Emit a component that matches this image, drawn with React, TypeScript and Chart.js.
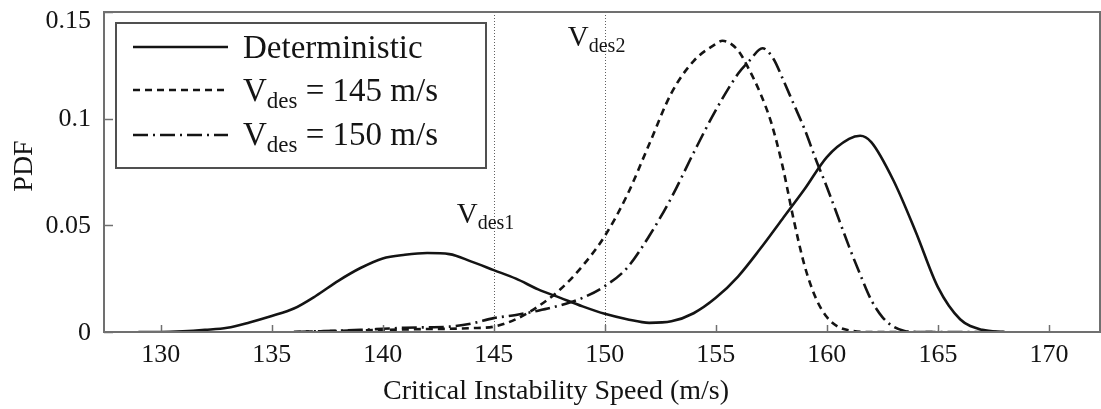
import React, { useEffect, useRef } from "react";
import { Chart, registerables } from "chart.js";
Chart.register(...registerables);

const xTicks = [130, 135, 140, 145, 150, 155, 160, 165, 170];
const yTicks = [0, 0.05, 0.1, 0.15];
const yTickLabels = ["0", "0.05", "0.1", "0.15"];

const detSpeed = [129, 130, 131, 132, 133, 134, 135, 136, 137, 138, 139, 140, 141, 142, 143, 144, 145, 146, 147, 148, 149, 150, 151, 152, 153, 154, 155, 156, 157, 158, 159, 160, 161, 161.5, 162, 163, 164, 165, 166, 167, 168];
const detPdf = [0, 0, 0.0003, 0.001, 0.002, 0.0045, 0.0075, 0.011, 0.017, 0.024, 0.030, 0.0345, 0.0362, 0.037, 0.0365, 0.033, 0.029, 0.025, 0.020, 0.016, 0.012, 0.0085, 0.006, 0.0043, 0.005, 0.0088, 0.016, 0.026, 0.039, 0.053, 0.067, 0.082, 0.0905, 0.092, 0.089, 0.071, 0.047, 0.021, 0.006, 0.001, 0];

const v145Speed = [136, 137, 138, 139, 140, 141, 142, 143, 144, 145, 146, 147, 148, 149, 150, 151, 152, 153, 154, 155, 155.3, 156, 156.5, 157, 157.5, 158, 158.5, 159, 159.5, 160, 160.5, 161, 162, 165];
const v145Pdf = [0, 0.0003, 0.0005, 0.0008, 0.001, 0.0012, 0.0014, 0.0015, 0.0018, 0.0025, 0.006, 0.012, 0.020, 0.031, 0.045, 0.064, 0.088, 0.112, 0.127, 0.135, 0.1365, 0.132, 0.123, 0.112, 0.098, 0.078, 0.053, 0.031, 0.016, 0.007, 0.0025, 0.0008, 0, 0];

const v150Speed = [136, 137, 138, 139, 140, 141, 142, 143, 144, 145, 146, 147, 148, 149, 150, 151, 152, 153, 154, 155, 156, 156.5, 157.1, 157.6, 158, 158.5, 159, 159.5, 160, 160.5, 161, 161.5, 162, 162.5, 163, 163.5, 164, 168];
const v150Pdf = [0, 0.0003, 0.0006, 0.001, 0.0015, 0.002, 0.0022, 0.0025, 0.004, 0.0065, 0.008, 0.010, 0.0125, 0.016, 0.0215, 0.030, 0.045, 0.063, 0.084, 0.104, 0.121, 0.127, 0.133, 0.128, 0.119, 0.107, 0.095, 0.081, 0.068, 0.054, 0.040, 0.027, 0.015, 0.007, 0.0025, 0.0005, 0, 0];

const designSpeeds = [145, 150];
const designSubs = ["des1", "des2"];
const designLabelLevels = [0.06, 0.143];

const legendLabels = [
  { main: "Deterministic", sub: "", rest: "" },
  { main: "V", sub: "des", rest: " = 145 m/s" },
  { main: "V", sub: "des", rest: " = 150 m/s" },
];
const xTitle = "Critical Instability Speed (m/s)";
const yTitle = "PDF";

const SERIF = "'Liberation Serif', 'Times New Roman', serif";
const INK = "#141414";
const AXIS = "#707070";
const DASHES: number[][] = [[], [7, 5], [15, 5, 2, 5]];

function toPts(xs: number[], ys: number[]) {
  return xs.map((x, i) => ({ x, y: ys[i] }));
}

function drawSubText(ctx: CanvasRenderingContext2D, x: number, y: number, main: string, sub: string, rest: string, size: number, subSize: number) {
  ctx.font = `${size}px ${SERIF}`;
  ctx.fillText(main, x, y);
  let cx = x + ctx.measureText(main).width;
  if (sub) {
    ctx.font = `${subSize}px ${SERIF}`;
    ctx.fillText(sub, cx, y + size * 0.2);
    cx += ctx.measureText(sub).width;
  }
  if (rest) {
    ctx.font = `${size}px ${SERIF}`;
    ctx.fillText(rest, cx, y);
  }
}

const framePlugin = {
  id: "frameDeco",
  beforeDatasetsDraw(chart: any) {
    const { ctx, chartArea: a, scales } = chart;
    const xs = scales.x;
    ctx.save();
    ctx.strokeStyle = "#606060";
    ctx.lineWidth = 1;
    ctx.setLineDash([1, 2]);
    designSpeeds.forEach((v) => {
      const px = Math.round(xs.getPixelForValue(v)) + 0.5;
      ctx.beginPath();
      ctx.moveTo(px, a.top);
      ctx.lineTo(px, a.bottom);
      ctx.stroke();
    });
    ctx.restore();
  },
  afterDraw(chart: any) {
    const { ctx, chartArea: a, scales } = chart;
    const xs = scales.x;
    const ys = scales.y;
    ctx.save();
    // frame
    ctx.strokeStyle = AXIS;
    ctx.lineWidth = 2;
    ctx.setLineDash([]);
    ctx.strokeRect(a.left, a.top, a.right - a.left, a.bottom - a.top);
    // inward ticks
    ctx.lineWidth = 1.5;
    xTicks.forEach((v) => {
      const px = Math.round(xs.getPixelForValue(v)) + 0.5;
      ctx.beginPath();
      ctx.moveTo(px, a.bottom);
      ctx.lineTo(px, a.bottom - 7);
      ctx.stroke();
    });
    yTicks.forEach((v) => {
      const py = Math.round(ys.getPixelForValue(v)) + 0.5;
      ctx.beginPath();
      ctx.moveTo(a.left, py);
      ctx.lineTo(a.left + 9, py);
      ctx.stroke();
    });
    // y tick labels (top label kept inside the canvas)
    ctx.fillStyle = INK;
    ctx.font = `26px ${SERIF}`;
    ctx.textAlign = "right";
    ctx.textBaseline = "middle";
    yTicks.forEach((v, i) => {
      const py = Math.max(ys.getPixelForValue(v) + 1, 21);
      ctx.fillText(yTickLabels[i], a.left - 13, py);
    });
    // design speed labels
    ctx.textBaseline = "alphabetic";
    ctx.textAlign = "left";
    designSpeeds.forEach((v, i) => {
      const px = xs.getPixelForValue(v) - 37;
      const py = ys.getPixelForValue(designLabelLevels[i]) + 19;
      drawSubText(ctx, px, py, "V", designSubs[i], "", 29, 20);
    });
    // legend
    const lx = a.left + 12;
    const ly = a.top + 11;
    ctx.fillStyle = "#ffffff";
    ctx.fillRect(lx, ly, 370, 145);
    ctx.strokeStyle = "#505050";
    ctx.lineWidth = 2;
    ctx.strokeRect(lx, ly, 370, 145);
    const rowY = [24, 67, 112];
    const baseY = [35, 78, 122];
    legendLabels.forEach((l, i) => {
      ctx.strokeStyle = INK;
      ctx.lineWidth = 2.5;
      ctx.setLineDash(DASHES[i]);
      ctx.beginPath();
      ctx.moveTo(lx + 17, ly + rowY[i]);
      ctx.lineTo(lx + 112, ly + rowY[i]);
      ctx.stroke();
      ctx.setLineDash([]);
      ctx.fillStyle = INK;
      drawSubText(ctx, lx + 127, ly + baseY[i], l.main, l.sub, l.rest, 33, 23);
    });
    // axis titles
    ctx.fillStyle = INK;
    ctx.font = `28px ${SERIF}`;
    ctx.textAlign = "center";
    ctx.fillText(xTitle, 556, 399);
    ctx.translate(32, 166);
    ctx.rotate(-Math.PI / 2);
    ctx.fillText(yTitle, 0, 0);
    ctx.restore();
  },
};

export default function App() {
  const ref = useRef<HTMLCanvasElement | null>(null);
  useEffect(() => {
    if (!ref.current) return;
    const series = [
      toPts(detSpeed, detPdf),
      toPts(v145Speed, v145Pdf),
      toPts(v150Speed, v150Pdf),
    ];
    const chart = new Chart(ref.current, {
      type: "line",
      data: {
        datasets: series.map((d, i) => ({
          label: legendLabels[i].main + legendLabels[i].sub + legendLabels[i].rest,
          data: d,
          borderColor: INK,
          borderWidth: 2.6,
          borderDash: DASHES[i],
          pointRadius: 0,
          fill: false,
          cubicInterpolationMode: "monotone" as const,
        })),
      },
      options: {
        animation: false,
        responsive: true,
        maintainAspectRatio: false,
        layout: { padding: { top: 12, right: 1, left: 0, bottom: 0 } },
        plugins: { legend: { display: false }, tooltip: { enabled: false } },
        scales: {
          x: {
            type: "linear",
            min: 127.45,
            max: 172.3,
            grid: { display: false },
            border: { display: false },
            afterBuildTicks: (s: any) => {
              s.ticks = xTicks.map((v) => ({ value: v }));
            },
            afterFit: (s: any) => {
              s.height = 77;
              s.paddingLeft = 0;
              s.paddingRight = 0;
            },
            ticks: {
              color: INK,
              padding: 0,
              font: { family: SERIF, size: 26 },
              maxRotation: 0,
              callback: (v: any) => String(v),
            },
          },
          y: {
            type: "linear",
            min: 0,
            max: 0.15,
            grid: { display: false },
            border: { display: false },
            afterBuildTicks: (s: any) => {
              s.ticks = yTicks.map((v) => ({ value: v }));
            },
            afterFit: (s: any) => {
              s.width = 104;
              s.paddingTop = 0;
              s.paddingBottom = 0;
            },
            ticks: { display: false },
          },
        },
      },
      plugins: [framePlugin],
    });
    return () => chart.destroy();
  }, []);
  return (
    <div style={{ position: "fixed", left: 0, top: 0, width: 1101, height: 409, background: "#fff" }}>
      <canvas ref={ref} />
    </div>
  );
}
